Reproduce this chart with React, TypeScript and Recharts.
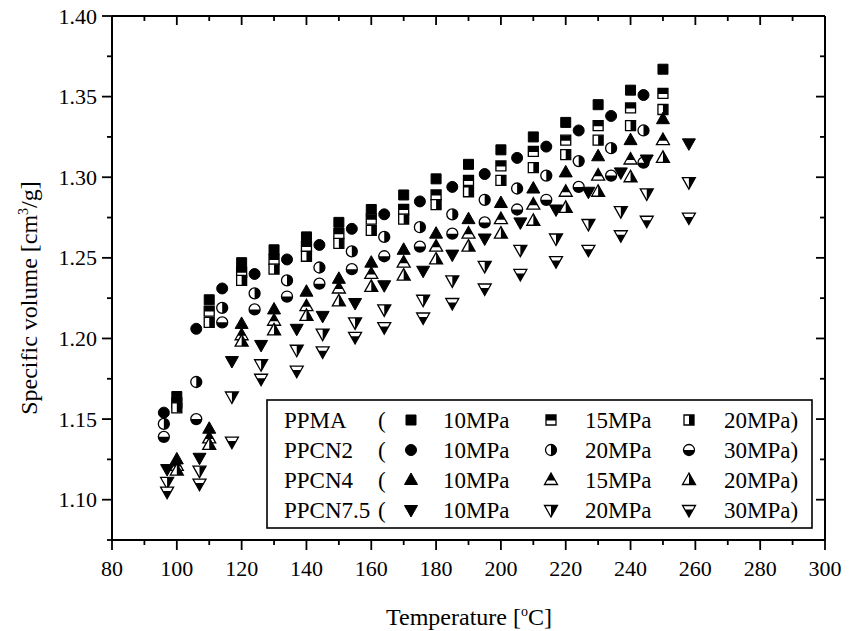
import { ScatterChart, Scatter, XAxis, YAxis } from "recharts";

const FONT = '"Liberation Serif", "Times New Roman", Times, serif';

// temperatures [°C]
const ppmaT = [100, 110, 120, 130, 140, 150, 160, 170, 180, 190, 200, 210, 220, 230, 240, 250];
const ppcn2T = [96, 106, 114, 124, 134, 144, 154, 164, 175, 185, 195, 205, 214, 224, 234, 244];
const ppcn4T = [100, 110, 120, 130, 140, 150, 160, 170, 180, 190, 200, 210, 220, 230, 240, 250];
const ppcn75T = [97, 107, 117, 126, 137, 145, 155, 164, 176, 185, 195, 206, 217, 227, 237, 245, 258];

// specific volume [cm3/g]
const ppma10 = [1.164, 1.224, 1.247, 1.255, 1.263, 1.272, 1.28, 1.289, 1.299, 1.308, 1.317, 1.325, 1.334, 1.345, 1.354, 1.367];
const ppma15 = [1.16, 1.217, 1.241, 1.249, 1.257, 1.265, 1.274, 1.28, 1.289, 1.298, 1.307, 1.316, 1.323, 1.332, 1.343, 1.352];
const ppma20 = [1.157, 1.21, 1.236, 1.243, 1.251, 1.259, 1.267, 1.274, 1.283, 1.291, 1.298, 1.306, 1.314, 1.323, 1.332, 1.342];

const ppcn2_10 = [1.154, 1.206, 1.231, 1.24, 1.249, 1.258, 1.268, 1.277, 1.285, 1.294, 1.302, 1.312, 1.319, 1.329, 1.338, 1.351];
const ppcn2_20 = [1.147, 1.173, 1.219, 1.228, 1.236, 1.244, 1.254, 1.263, 1.269, 1.277, 1.286, 1.293, 1.301, 1.31, 1.318, 1.329];
const ppcn2_30 = [1.139, 1.15, 1.21, 1.218, 1.226, 1.234, 1.243, 1.251, 1.257, 1.265, 1.272, 1.28, 1.286, 1.294, 1.301, 1.309];

const ppcn4_10 = [1.125, 1.144, 1.209, 1.218, 1.229, 1.237, 1.247, 1.255, 1.265, 1.274, 1.284, 1.293, 1.303, 1.313, 1.323, 1.336];
const ppcn4_15 = [1.121, 1.138, 1.202, 1.211, 1.22, 1.231, 1.24, 1.247, 1.257, 1.265, 1.274, 1.283, 1.291, 1.301, 1.311, 1.323];
const ppcn4_20 = [1.118, 1.134, 1.198, 1.205, 1.214, 1.223, 1.232, 1.239, 1.249, 1.257, 1.265, 1.273, 1.281, 1.291, 1.3, 1.312];

const ppcn75_10 = [1.119, 1.126, 1.186, 1.196, 1.206, 1.214, 1.222, 1.233, 1.242, 1.252, 1.262, 1.272, 1.28, 1.291, 1.303, 1.311, 1.321];
const ppcn75_20 = [1.111, 1.118, 1.164, 1.184, 1.193, 1.203, 1.21, 1.218, 1.224, 1.236, 1.245, 1.255, 1.262, 1.271, 1.279, 1.29, 1.297];
const ppcn75_30 = [1.105, 1.11, 1.136, 1.175, 1.18, 1.192, 1.201, 1.207, 1.213, 1.222, 1.231, 1.24, 1.248, 1.255, 1.264, 1.273, 1.275];

const xTicks = [80, 90, 100, 110, 120, 130, 140, 150, 160, 170, 180, 190, 200, 210, 220, 230, 240, 250, 260, 270, 280, 290, 300];
const yTicks = [1.075, 1.1, 1.125, 1.15, 1.175, 1.2, 1.225, 1.25, 1.275, 1.3, 1.325, 1.35, 1.375, 1.4];

type Kind = "square" | "circle" | "up" | "down";

// clip = which part of the marker is black (null -> whole marker)
const SERIES: { key: string; t: number[]; v: number[]; kind: Kind; clip: string | null }[] = [
  { key: "ppma10", t: ppmaT, v: ppma10, kind: "square", clip: null },
  { key: "ppma15", t: ppmaT, v: ppma15, kind: "square", clip: "top55" },
  { key: "ppma20", t: ppmaT, v: ppma20, kind: "square", clip: "right" },
  { key: "ppcn2_10", t: ppcn2T, v: ppcn2_10, kind: "circle", clip: null },
  { key: "ppcn2_20", t: ppcn2T, v: ppcn2_20, kind: "circle", clip: "right" },
  { key: "ppcn2_30", t: ppcn2T, v: ppcn2_30, kind: "circle", clip: "bottom50" },
  { key: "ppcn4_10", t: ppcn4T, v: ppcn4_10, kind: "up", clip: null },
  { key: "ppcn4_15", t: ppcn4T, v: ppcn4_15, kind: "up", clip: "top65" },
  { key: "ppcn4_20", t: ppcn4T, v: ppcn4_20, kind: "up", clip: "right" },
  { key: "ppcn75_10", t: ppcn75T, v: ppcn75_10, kind: "down", clip: null },
  { key: "ppcn75_20", t: ppcn75T, v: ppcn75_20, kind: "down", clip: "right" },
  { key: "ppcn75_30", t: ppcn75T, v: ppcn75_30, kind: "down", clip: "bottom65" },
];

function markerPath(kind: Kind, cx: number, cy: number) {
  switch (kind) {
    case "square":
      return `M${cx - 5},${cy - 5}h10v10h-10Z`;
    case "circle":
      return `M${cx - 5.5},${cy}a5.5,5.5 0 1,0 11,0a5.5,5.5 0 1,0 -11,0Z`;
    case "up":
      return `M${cx},${cy - 7}L${cx + 6.5},${cy + 4.5}L${cx - 6.5},${cy + 4.5}Z`;
    default:
      return `M${cx},${cy + 7}L${cx + 6.5},${cy - 4.5}L${cx - 6.5},${cy - 4.5}Z`;
  }
}

function Marker({ cx, cy, kind, clip }: { cx: number; cy: number; kind: Kind; clip: string | null }) {
  if (cx == null || cy == null) return null;
  const d = markerPath(kind, cx, cy);
  if (!clip) return <path d={d} fill="#000" stroke="#000" strokeWidth={1} />;
  return (
    <g>
      <path d={d} fill="#fff" />
      <path d={d} fill="#000" clipPath={`url(#clip-${clip})`} />
      <path d={d} fill="none" stroke="#000" strokeWidth={1.3} />
    </g>
  );
}

function BottomTick({ x, y, payload }: any) {
  const v = payload.value;
  const major = v % 20 === 0;
  return (
    <g>
      <line x1={x} x2={x} y1={y} y2={y + (major ? 10 : 5)} stroke="#000" strokeWidth={1.8} />
      {major && (
        <text x={x} y={y + 36} textAnchor="middle" fontSize={22} fontFamily={FONT} fill="#000">
          {v}
        </text>
      )}
    </g>
  );
}

function TopTick({ x, y, payload }: any) {
  const major = payload.value % 20 === 0;
  return <line x1={x} x2={x} y1={y} y2={y + (major ? 9 : 5)} stroke="#000" strokeWidth={1.8} />;
}

function LeftTick({ x, y, payload }: any) {
  const v = payload.value;
  const major = Math.round(v * 1000) % 50 === 0;
  return (
    <g>
      <line x1={x - (major ? 10 : 5)} x2={x} y1={y} y2={y} stroke="#000" strokeWidth={1.8} />
      {major && (
        <text x={x - 15} y={y + 7.5} textAnchor="end" fontSize={22} fontFamily={FONT} fill="#000">
          {v.toFixed(2)}
        </text>
      )}
    </g>
  );
}

function RightTick({ x, y, payload }: any) {
  const major = Math.round(payload.value * 1000) % 50 === 0;
  return <line x1={x - (major ? 9 : 5)} x2={x} y1={y} y2={y} stroke="#000" strokeWidth={1.8} />;
}

const LEGEND_ROWS: { label: string; keys: string[]; units: string[] }[] = [
  { label: "PPMA", keys: ["ppma10", "ppma15", "ppma20"], units: ["10MPa", "15MPa", "20MPa)"] },
  { label: "PPCN2", keys: ["ppcn2_10", "ppcn2_20", "ppcn2_30"], units: ["10MPa", "20MPa", "30MPa)"] },
  { label: "PPCN4", keys: ["ppcn4_10", "ppcn4_15", "ppcn4_20"], units: ["10MPa", "15MPa", "20MPa)"] },
  { label: "PPCN7.5", keys: ["ppcn75_10", "ppcn75_20", "ppcn75_30"], units: ["10MPa", "20MPa", "30MPa)"] },
];

function Overlay() {
  const rowY = [420, 450, 480, 510];
  const markerX = [411, 551, 689];
  const textX = [443, 585, 724];
  return (
    <svg width={858} height={631} style={{ position: "absolute", left: 0, top: 0, pointerEvents: "none" }}>
      <defs>
        <clipPath id="clip-right" clipPathUnits="objectBoundingBox">
          <rect x={0.5} y={0} width={0.5} height={1} />
        </clipPath>
        <clipPath id="clip-top55" clipPathUnits="objectBoundingBox">
          <rect x={0} y={0} width={1} height={0.55} />
        </clipPath>
        <clipPath id="clip-top65" clipPathUnits="objectBoundingBox">
          <rect x={0} y={0} width={1} height={0.66} />
        </clipPath>
        <clipPath id="clip-bottom50" clipPathUnits="objectBoundingBox">
          <rect x={0} y={0.5} width={1} height={0.5} />
        </clipPath>
        <clipPath id="clip-bottom65" clipPathUnits="objectBoundingBox">
          <rect x={0} y={0.34} width={1} height={0.66} />
        </clipPath>
      </defs>

      <text
        transform="translate(37,298) rotate(-90)"
        textAnchor="middle"
        fontSize={24}
        fontFamily={FONT}
        fill="#000"
      >
        Specific volume [cm
        <tspan dy={-9} fontSize={14}>3</tspan>
        <tspan dy={9}>/g]</tspan>
      </text>
      <text x={469} y={625} textAnchor="middle" fontSize={24} fontFamily={FONT} fill="#000">
        Temperature [
        <tspan dy={-9} fontSize={14}>o</tspan>
        <tspan dy={9}>C]</tspan>
      </text>

      <rect x={267} y={400} width={545} height={128} fill="#fff" stroke="#000" strokeWidth={1.6} />
      {LEGEND_ROWS.map((row, r) => (
        <g key={row.label}>
          <text x={284} y={rowY[r] + 8} fontSize={23} fontFamily={FONT} fill="#000">
            {row.label}
          </text>
          <text x={378} y={rowY[r] + 8} fontSize={23} fontFamily={FONT} fill="#000">
            (
          </text>
          {row.keys.map((k, i) => {
            const s = SERIES.find((q) => q.key === k)!;
            return (
              <g key={k}>
                <Marker cx={markerX[i]} cy={rowY[r]} kind={s.kind} clip={s.clip} />
                <text x={textX[i]} y={rowY[r] + 8} fontSize={23} fontFamily={FONT} fill="#000">
                  {row.units[i]}
                </text>
              </g>
            );
          })}
        </g>
      ))}
    </svg>
  );
}

export default function App() {
  return (
    <div style={{ position: "fixed", left: 0, top: 0, width: 858, height: 631, background: "#fff" }}>
      <ScatterChart width={858} height={631} margin={{ top: 0, right: 0, bottom: 0, left: 0 }}>
        <XAxis
          xAxisId="b"
          type="number"
          dataKey="x"
          domain={[80, 300]}
          ticks={xTicks}
          allowDataOverflow
          height={91}
          stroke="#000"
          strokeWidth={2}
          tickLine={false}
          tickSize={0}
          tickMargin={0}
          tick={<BottomTick />}
          interval={0}
        />
        <XAxis
          xAxisId="t"
          orientation="top"
          type="number"
          dataKey="x"
          domain={[80, 300]}
          ticks={xTicks}
          allowDataOverflow
          height={16}
          stroke="#000"
          strokeWidth={2}
          tickLine={false}
          tickSize={0}
          tickMargin={0}
          tick={<TopTick />}
          interval={0}
        />
        <YAxis
          yAxisId="l"
          type="number"
          dataKey="y"
          domain={[1.075, 1.4]}
          ticks={yTicks}
          allowDataOverflow
          width={112}
          stroke="#000"
          strokeWidth={2}
          tickLine={false}
          tickSize={0}
          tickMargin={0}
          tick={<LeftTick />}
          interval={0}
        />
        <YAxis
          yAxisId="r"
          orientation="right"
          type="number"
          dataKey="y"
          domain={[1.075, 1.4]}
          ticks={yTicks}
          allowDataOverflow
          width={33}
          stroke="#000"
          strokeWidth={2}
          tickLine={false}
          tickSize={0}
          tickMargin={0}
          tick={<RightTick />}
          interval={0}
        />
        {SERIES.map((s) => (
          <Scatter
            key={s.key}
            name={s.key}
            xAxisId="b"
            yAxisId="l"
            data={s.t.map((t, i) => ({ x: t, y: s.v[i] }))}
            isAnimationActive={false}
            shape={(p: any) => <Marker cx={p.cx} cy={p.cy} kind={s.kind} clip={s.clip} />}
          />
        ))}
      </ScatterChart>
      <Overlay />
    </div>
  );
}
